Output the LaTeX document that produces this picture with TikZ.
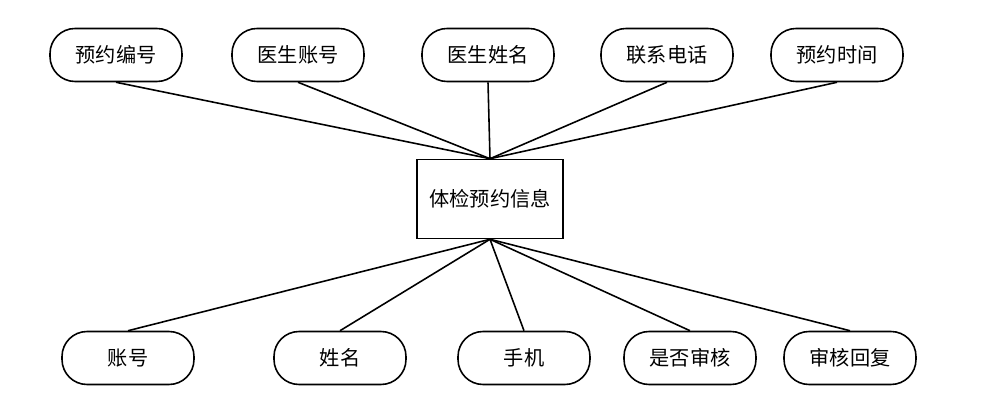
\documentclass[tikz,border=0pt]{standalone}
\usepackage{fontspec}
\newfontfamily\cjk{Noto Sans CJK SC}
\usetikzlibrary{positioning}

\begin{document}
\begin{tikzpicture}[x=0.02cm,y=-0.02cm,
  attr/.style={draw,line width=0.9pt,rounded corners=0.5cm,minimum width=2.64cm,minimum height=1.06cm,
               inner sep=0pt,font=\cjk\fontsize{11.5}{13}\selectfont},
  entity/.style={draw,line width=0.9pt,minimum width=2.92cm,minimum height=1.58cm,
               inner sep=0pt,font=\cjk\fontsize{11.5}{13}\selectfont},
  link/.style={line width=0.9pt}]
  \useasboundingbox (0,0) rectangle (994,408);
  \node[entity] (info) at (490,199) {体检预约信息};
  % top attributes
  \foreach [count=\i] \l/\x in {预约编号/116, 医生账号/298, 医生姓名/488, 联系电话/667, 预约时间/837}{
    \node[attr] (top\i) at (\x,55) {\l};
    \draw[link] (top\i.south) -- (info.north);
  }
  % bottom attributes
  \foreach [count=\i] \l/\x in {账号/128, 姓名/340, 手机/524, 是否审核/690, 审核回复/850}{
    \node[attr] (bot\i) at (\x,358) {\l};
    \draw[link] (info.south) -- (bot\i.north);
  }
\end{tikzpicture}
\end{document}
